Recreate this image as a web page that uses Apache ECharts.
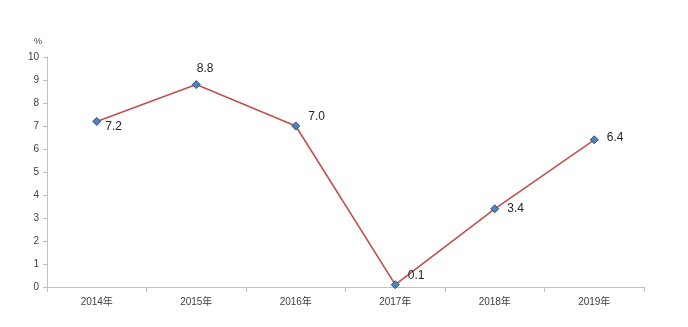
<!DOCTYPE html>
<html>
<head>
<meta charset="utf-8">
<script src="https://cdn.jsdelivr.net/npm/echarts@6/dist/echarts.min.js"></script>
<style>
  html, body { margin: 0; padding: 0; background: #fff; }
  #chart { width: 688px; height: 327px; }
</style>
</head>
<body>
<div id="chart"></div>
<script>
// Annual growth rate, percent
const years = ['2014年', '2015年', '2016年', '2017年', '2018年', '2019年'];
const growth = [7.2, 8.8, 7.0, 0.1, 3.4, 6.4];
// label offsets [dx, dy] relative to a right-side label
const labelOffsets = [[0, 5], [-8, -16], [4, -9], [4, -9], [4, 0], [4, -2]];

const chart = echarts.init(document.getElementById('chart'));
const font = '"Liberation Sans", "Noto Sans CJK SC", sans-serif';

chart.setOption({
  animation: false,
  grid: { left: 47, right: 44, top: 57, bottom: 40 },
  xAxis: {
    type: 'category',
    data: years,
    boundaryGap: true,
    axisLine: { lineStyle: { color: '#bfbfbf', width: 1 } },
    axisTick: { show: true, length: 5, lineStyle: { color: '#bfbfbf' } },
    axisLabel: { color: '#404040', fontSize: 10, fontFamily: font, margin: 10 }
  },
  yAxis: {
    type: 'value',
    min: 0,
    max: 10,
    interval: 1,
    name: '%',
    nameLocation: 'end',
    nameGap: 11,
    nameTextStyle: { color: '#404040', fontSize: 9, fontFamily: font, padding: [0, 18, 0, 0] },
    axisLine: { show: true, lineStyle: { color: '#bfbfbf', width: 1 } },
    axisTick: { show: true, length: 4, lineStyle: { color: '#bfbfbf' } },
    axisLabel: { color: '#404040', fontSize: 10, fontFamily: font, margin: 8 },
    splitLine: { show: false }
  },
  series: [{
    type: 'line',
    data: growth.map((v, i) => ({
      value: v,
      label: { offset: labelOffsets[i] }
    })),
    symbol: 'diamond',
    symbolSize: 8,
    itemStyle: { color: '#4f81bd', borderColor: '#2f4f75', borderWidth: 1 },
    lineStyle: { color: '#c0504d', width: 1.6 },
    label: {
      show: true,
      position: 'right',
      distance: 4,
      color: '#262626',
      fontSize: 12,
      fontFamily: font,
      formatter: p => p.value.toFixed(1)
    }
  }]
});
</script>
</body>
</html>
